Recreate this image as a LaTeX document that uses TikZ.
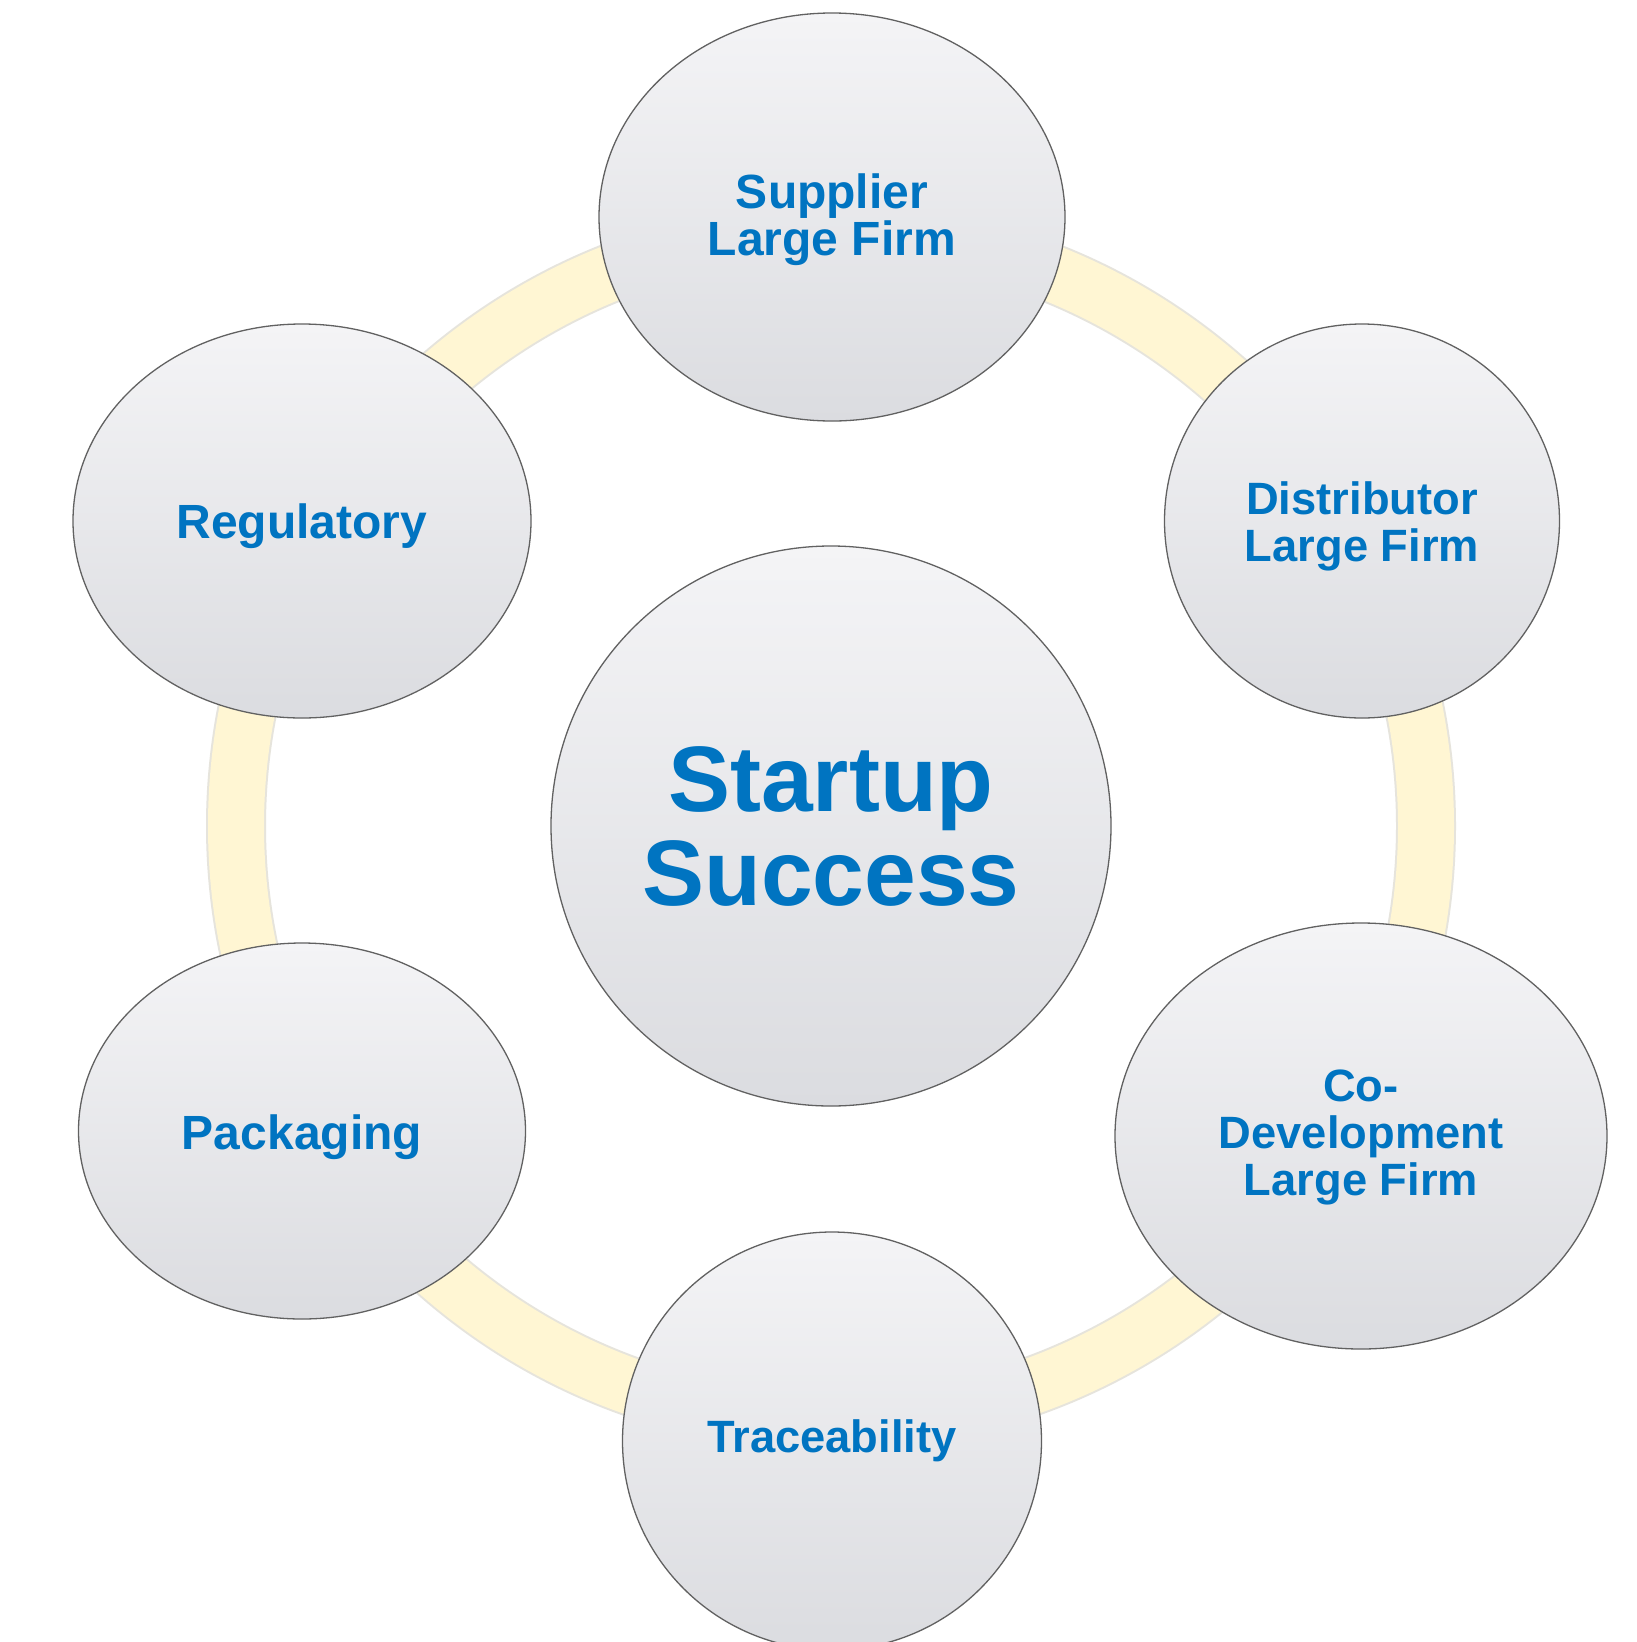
\documentclass[tikz,border=0pt]{standalone}
\usepackage{fontspec}
\setmainfont{Liberation Sans}
\usetikzlibrary{shapes.geometric}
\definecolor{txtblue}{HTML}{0074C1}
\definecolor{ringfill}{HTML}{FFF6D3}
\definecolor{ringedge}{HTML}{E6E4DC}
\definecolor{topgray}{HTML}{F4F4F6}
\definecolor{botgray}{HTML}{DBDCE0}
\begin{document}
\begin{tikzpicture}[x=1pt,y=-1pt,
  bubble/.style={ellipse, draw=black!62, line width=1.3pt, top color=topgray,
    bottom color=botgray, inner sep=0pt},
  lbl/.style={inner sep=0pt, align=center, text=txtblue,
    font=\bfseries\fontsize{48}{47}\selectfont},
  smalllbl/.style={lbl, font=\bfseries\fontsize{45.3}{47}\selectfont},
  biglbl/.style={lbl, font=\bfseries\fontsize{93}{94}\selectfont},
  ringband/.style={line width=56pt, draw=ringfill},
  ringshade/.style={line width=60pt, draw=ringedge}
]
\useasboundingbox[fill=white] (0,0) rectangle (1637,1642);
\clip (0,0) rectangle (1637,1642);
\coordinate (hub) at (831,826);
\draw[ringshade] (hub) circle[radius=595];
\draw[ringband] (hub) circle[radius=595];

\node[bubble, minimum width=560pt, minimum height=560pt] (center) at (831,826) {};
\node[bubble, minimum width=466pt, minimum height=408pt] (supplier) at (832,217) {};
\node[bubble, minimum width=395pt, minimum height=394pt] (distributor) at (1362,521) {};
\node[bubble, minimum width=458pt, minimum height=394pt] (regulatory) at (302,521) {};
\node[bubble, minimum width=447pt, minimum height=376pt] (packaging) at (302,1131) {};
\node[bubble, minimum width=492pt, minimum height=426pt] (codev) at (1361,1136) {};
\node[bubble, minimum width=419pt, minimum height=418pt] (trace) at (832,1441) {};

\node[biglbl] (centertxt) at (center.center) {Startup\\Success};
\node[lbl] (suppliertxt) at ([yshift=-3pt]supplier.center) {Supplier\\Large Firm};
\node[smalllbl] (distributortxt) at ([yshift=-5pt]distributor.center) {Distributor\\Large Firm};
\node[lbl] (regulatorytxt) at ([yshift=-5pt]regulatory.center) {Regulatory};
\node[lbl] (packagingtxt) at ([yshift=-6pt]packaging.center) {Packaging};
\node[smalllbl] (codevtxt) at ([yshift=-1pt]codev.center) {Co-\\Development\\Large Firm};
\node[smalllbl] (tracetxt) at (trace.center) {Traceability};
\end{tikzpicture}
\end{document}
